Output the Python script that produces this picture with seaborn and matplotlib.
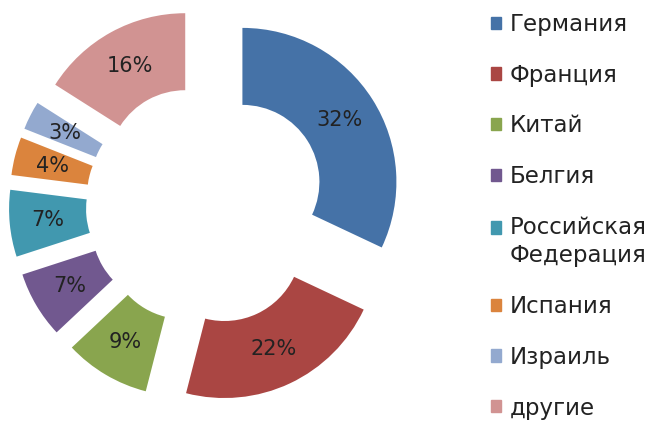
import matplotlib
matplotlib.use("Agg")
import matplotlib.pyplot as plt
import matplotlib.patches as mpatches
from matplotlib.legend_handler import HandlerPatch
import seaborn as sns

countries = [
    "Германия",
    "Франция",
    "Китай",
    "Белгия",
    "Российская\nФедерация",
    "Испания",
    "Израиль",
    "другие",
]
shares = [32, 22, 9, 7, 7, 4, 3, 16]
colors = [
    "#4572A7",
    "#AA4643",
    "#89A54E",
    "#71588F",
    "#4198AF",
    "#DB843D",
    "#93A9CF",
    "#D19392",
]


def first_line_square(legend, orig_handle, xdescent, ydescent, width, height, fontsize):
    # square next to the first line of a two-line label
    return mpatches.Rectangle(
        (-xdescent, -ydescent + 0.65 * fontsize), width, height
    )


def draw_chart():

    sns.set_theme(style="white")
    plt.rcParams["font.family"] = ["DejaVu Sans"]

    fig = plt.figure(figsize=(6.65, 4.25), dpi=100)

    # pie area: left part of the figure, 154 px per data unit
    ax = fig.add_axes([0, 0, 420 / 665, 1])

    palette = sns.color_palette(colors)

    wedges, texts, autotexts = ax.pie(
        shares,
        colors=palette,
        startangle=90,
        counterclock=False,
        explode=[0.28] * len(shares),
        radius=1,
        wedgeprops=dict(width=0.5, edgecolor="none"),
        autopct="%1.0f%%",
        pctdistance=0.75,
        textprops=dict(fontsize=15, color="#222222"),
    )

    ax.set_aspect("auto")
    ax.set_xlim((0 - 206) / 154, (420 - 206) / 154)
    ax.set_ylim((0 - 220) / 154, (425 - 220) / 154)
    ax.axis("off")

    handles = [
        mpatches.Patch(color=c, label=name)
        for c, name in zip(palette, countries)
    ]

    handler_map = {handles[4]: HandlerPatch(patch_func=first_line_square)}

    legend = fig.legend(
        handles=handles,
        loc="upper left",
        bbox_to_anchor=(491 / 665, 1 - 13 / 425),
        frameon=False,
        fontsize=16.5,
        handlelength=0.45,
        handleheight=0.45,
        handletextpad=0.35,
        labelspacing=1.21,
        labelcolor="#222222",
        borderaxespad=0,
        borderpad=0,
        handler_map=handler_map,
    )

    for text in legend.get_texts():
        text.set_linespacing(1.3)

    fig.savefig("out.png", dpi=100)
    plt.close(fig)


if __name__ == "__main__":
    draw_chart()
